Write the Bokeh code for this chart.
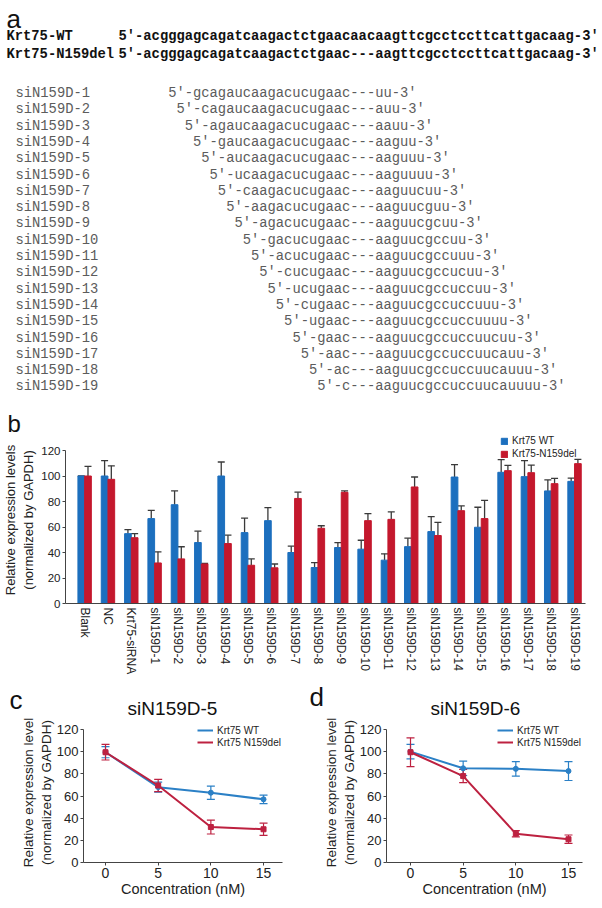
import numpy as np
from bokeh.plotting import figure
from bokeh.layouts import column, row
from bokeh.models import (Range1d, ColumnDataSource, Whisker, TeeHead,
                          Legend, LegendItem, FixedTicker)
from bokeh.core.properties import value
from bokeh.embed import file_html
from bokeh.resources import INLINE

# ---------------- data: panel a ----------------
ref_labels = ["Krt75-WT", "Krt75-N159del"]
ref_seqs = [
    "5′-acgggagcagatcaagactctgaacaacaagttcgcctccttcattgacaag-3′",
    "5′-acgggagcagatcaagactctgaac---aagttcgcctccttcattgacaag-3′",
]
si_names = ["siN159D-1", "siN159D-2", "siN159D-3", "siN159D-4", "siN159D-5",
            "siN159D-6", "siN159D-7", "siN159D-8", "siN159D-9", "siN159D-10",
            "siN159D-11", "siN159D-12", "siN159D-13", "siN159D-14", "siN159D-15",
            "siN159D-16", "siN159D-17", "siN159D-18", "siN159D-19"]
si_seqs = [
    "5′-gcagaucaagacucugaac---uu-3′",
    "5′-cagaucaagacucugaac---auu-3′",
    "5′-agaucaagacucugaac---aauu-3′",
    "5′-gaucaagacucugaac---aaguu-3′",
    "5′-aucaagacucugaac---aaguuu-3′",
    "5′-ucaagacucugaac---aaguuuu-3′",
    "5′-caagacucugaac---aaguucuu-3′",
    "5′-aagacucugaac---aaguucguu-3′",
    "5′-agacucugaac---aaguucgcuu-3′",
    "5′-gacucugaac---aaguucgccuu-3′",
    "5′-acucugaac---aaguucgccuuu-3′",
    "5′-cucugaac---aaguucgccucuu-3′",
    "5′-ucugaac---aaguucgccuccuu-3′",
    "5′-cugaac---aaguucgccuccuuu-3′",
    "5′-ugaac---aaguucgccuccuuuu-3′",
    "5′-gaac---aaguucgccuccuucuu-3′",
    "5′-aac---aaguucgccuccuucauu-3′",
    "5′-ac---aaguucgccuccuucauuu-3′",
    "5′-c---aaguucgccuccuucauuuu-3′",
]

# ---------------- data: panel b ----------------
categories = ["Blank", "NC", "Krt75-siRNA"] + si_names
wt_mean = [100, 100, 54.8, 66.6, 77.5, 47.8, 100, 55.6, 65, 40, 28.2, 43.9,
           42.6, 34, 44.6, 56.4, 99.2, 59.8, 102.9, 99.5, 88.3, 95.8]
wt_err = [0, 12, 3.2, 6.4, 10.8, 8.9, 11, 11.4, 10.2, 5, 3.8, 3.9,
          7, 5, 6.6, 11.7, 9.8, 15.7, 9.9, 12.5, 8.6, 2.6]
del_mean = [100, 97.4, 51.6, 31.8, 35, 31, 47, 30, 28, 82.4, 59, 87.2,
            65, 66, 91.4, 53.3, 72.8, 66.6, 104.2, 102.6, 94, 109.7]
del_err = [7.5, 10.6, 3.2, 8.7, 9.5, 0.5, 6.6, 5, 3, 4.9, 2, 1.1,
           5.5, 5.8, 7.8, 10.4, 3.7, 14.3, 4.2, 6, 4.2, 3.3]
bar_ticks = [0, 20, 40, 60, 80, 100, 120]

# ---------------- data: panels c, d ----------------
panel_titles = ["siN159D-5", "siN159D-6"]
conc = [0, 5, 10, 15]
c_wt = [99.5, 68, 63, 57]
c_wt_err = [5, 4.5, 6, 3.8]
c_del = [99.5, 69.5, 32, 30]
c_del_err = [7, 5.5, 6.3, 5.5]
d_wt = [100, 85, 84.5, 82.5]
d_wt_err = [6.5, 6.5, 6.5, 8.5]
d_del = [99.5, 78, 26, 21]
d_del_err = [13, 6, 2.8, 3.8]
line_ticks = [0, 20, 40, 60, 80, 100, 120]

MONO = "Liberation Mono"
SANS = "Liberation Sans"
BLUE = "#1c6fbe"
RED = "#c4182d"
LBLUE = "#2b80c6"
LRED = "#bd2140"
AX = "#444444"
INK = "#111111"

W = 602


def unaligned(p):
    try:
        p.frame_align = False
    except Exception:
        pass
    return p


def text_panel(height, top):
    p = figure(width=W, height=height, x_range=Range1d(0, W),
               y_range=Range1d(top + height, top),
               x_axis_type=None, y_axis_type=None, toolbar_location=None,
               output_backend="svg", min_border=0)
    p.outline_line_color = None
    return unaligned(p)


def letter_kw(size):
    return dict(text_font=value(SANS), text_font_size=f"{size}px",
                text_baseline="middle", text_color=INK)


# ================= panel a (text) =================
A_TOP, A_H = 0, 436
pa = text_panel(A_H, A_TOP)
fs = 13.8
cw = 0.6 * fs
lab_x = 6
seq_x = 118
ref_y = [36, 54]
pa.text(x=[6], y=[18], text=["a"], **letter_kw(26))
pa.text(x=[7], y=[423], text=["b"], **letter_kw(24))
pa.text(x=[lab_x] * len(ref_labels), y=ref_y, text=ref_labels, text_font=value(MONO),
        text_font_size=f"{fs}px", text_font_style="bold", text_baseline="middle",
        text_color=INK)
pa.text(x=[seq_x] * len(ref_seqs), y=ref_y, text=ref_seqs, text_font=value(MONO),
        text_font_size=f"{fs}px", text_font_style="bold", text_baseline="middle",
        text_color=INK)
dash_x = seq_x + ref_seqs[1].index("---") * cw
si_y = 93 + 16.3 * np.arange(len(si_seqs))
si_x = [dash_x - s.index("---") * cw for s in si_seqs]
pa.text(x=[15] * len(si_names), y=si_y, text=si_names, text_font=value(MONO),
        text_font_size=f"{fs}px", text_baseline="middle", text_color="#5c5c5c")
pa.text(x=si_x, y=si_y, text=si_seqs, text_font=value(MONO),
        text_font_size=f"{fs}px", text_baseline="middle", text_color="#5c5c5c")

# ================= panel b (bars) =================
B_TOP = A_TOP + A_H            # 436
B_FRAME_BOTTOM = 603
B_H = 682 - B_TOP
px_per_unit = 1.275
n = len(categories)
xs = np.arange(n)
off = 0.144
bw = 0.287
pb = figure(width=W, height=B_H, x_range=Range1d(-0.82, n - 0.53),
            y_range=Range1d(0, 120 + (450 - B_TOP) / px_per_unit),
            toolbar_location=None, output_backend="svg",
            min_border_left=65, min_border_right=17, min_border_top=0,
            min_border_bottom=B_TOP + B_H - B_FRAME_BOTTOM)
unaligned(pb)
pb.outline_line_color = None
pb.grid.visible = False
r_wt = pb.vbar(x=xs - off, top=wt_mean, width=bw, color=BLUE)
r_del = pb.vbar(x=xs + off, top=del_mean, width=bw, color=RED)
for xpos, mean, err in [(xs - off, wt_mean, wt_err), (xs + off, del_mean, del_err)]:
    m = np.array(mean, dtype=float)
    src = ColumnDataSource(dict(base=xpos, lower=m, upper=m + np.array(err)))
    pb.add_layout(Whisker(source=src, base="base", lower="lower", upper="upper",
                          line_color="#3a3a3a", line_width=1.3, lower_head=None,
                          upper_head=TeeHead(size=7, line_color="#3a3a3a", line_width=1.3)))
leg_b = Legend(items=[LegendItem(label="Krt75 WT", renderers=[r_wt]),
                      LegendItem(label="Krt75-N159del", renderers=[r_del])],
               location=(435, B_FRAME_BOTTOM - 459), glyph_width=8, glyph_height=8,
               label_height=10, label_standoff=4, spacing=2, padding=0, margin=0,
               border_line_color=None, background_fill_alpha=0,
               label_text_font=SANS, label_text_font_size="10px", label_text_color="#222222")
pb.add_layout(leg_b)
pb.xaxis.ticker = FixedTicker(ticks=list(xs))
pb.xaxis.major_label_overrides = {int(i): c for i, c in zip(xs, categories)}
pb.xaxis.major_label_orientation = "vertical"
pb.xaxis.major_tick_line_color = None
pb.xaxis.minor_tick_line_color = None
pb.xaxis.major_tick_out = 0
pb.xaxis.major_label_standoff = 4
pb.xaxis.axis_line_color = AX
pb.xaxis.major_label_text_font = SANS
pb.xaxis.major_label_text_font_size = "12px"
pb.xaxis.major_label_text_color = "#222222"
pb.yaxis.ticker = FixedTicker(ticks=bar_ticks)
pb.yaxis.bounds = (0, 120)
pb.yaxis.minor_tick_line_color = None
pb.yaxis.major_tick_out = 3
pb.yaxis.major_tick_in = 0
pb.yaxis.major_tick_line_color = AX
pb.yaxis.axis_line_color = AX
pb.yaxis.major_label_standoff = 2
pb.yaxis.major_label_text_font = SANS
pb.yaxis.major_label_text_font_size = "11.5px"
pb.yaxis.major_label_text_color = "#222222"
pb.yaxis.axis_label = "Relative expression levels\n(normalized by GAPDH)"
pb.yaxis.axis_label_text_font = SANS
pb.yaxis.axis_label_text_font_size = "13px"
pb.yaxis.axis_label_text_font_style = "normal"
pb.yaxis.axis_label_standoff = 2
pb.yaxis.axis_label_text_color = "#222222"

# ================= strip with panel letters and titles of c, d =================
S_TOP = B_TOP + B_H            # 682
S_H = 36
ps = text_panel(S_H, S_TOP)
ps.text(x=[9, 309], y=[699, 696], text=["c", "d"], **letter_kw(26))
ps.text(x=[172, 475], y=[708, 708], text=panel_titles, text_font=value(SANS),
        text_font_size="19px", text_align="center", text_baseline="middle",
        text_color=INK)

# ================= panels c, d (lines) =================
R_TOP = S_TOP + S_H            # 718
R_H = 905 - R_TOP
L_FRAME_TOP = 722
L_FRAME_BOTTOM = 862
l_px_per_unit = 1.108


def conc_panel(wt, wt_e, de, de_e, width, left, right, xr, leg_x):
    p = figure(width=width, height=R_H, x_range=Range1d(*xr),
               y_range=Range1d(0, 120 + (729 - L_FRAME_TOP) / l_px_per_unit),
               toolbar_location=None, output_backend="svg",
               min_border_left=left, min_border_right=right,
               min_border_top=L_FRAME_TOP - R_TOP,
               min_border_bottom=R_TOP + R_H - L_FRAME_BOTTOM)
    unaligned(p)
    p.outline_line_color = None
    p.grid.visible = False
    lw = p.line(conc, wt, line_color=LBLUE, line_width=2)
    p.scatter(conc, wt, marker="circle", size=5, color=LBLUE)
    for vals, errs, col in [(wt, wt_e, LBLUE), (de, de_e, LRED)]:
        v = np.array(vals, dtype=float)
        e = np.array(errs, dtype=float)
        src = ColumnDataSource(dict(base=conc, lower=v - e, upper=v + e))
        p.add_layout(Whisker(source=src, base="base", lower="lower", upper="upper",
                             line_color=col, line_width=1.2,
                             lower_head=TeeHead(size=8, line_color=col, line_width=1.2),
                             upper_head=TeeHead(size=8, line_color=col, line_width=1.2)))
    ld = p.line(conc, de, line_color=LRED, line_width=2)
    p.scatter(conc, de, marker="square", size=5, color=LRED)
    leg = Legend(items=[LegendItem(label="Krt75 WT", renderers=[lw]),
                        LegendItem(label="Krt75 N159del", renderers=[ld])],
                 location=(leg_x, L_FRAME_BOTTOM - 748), glyph_width=16, glyph_height=12,
                 label_height=12, label_standoff=4, spacing=0, padding=0, margin=0,
                 border_line_color=None, background_fill_alpha=0,
                 label_text_font=SANS, label_text_font_size="10px",
                 label_text_color="#222222")
    p.add_layout(leg)
    p.xaxis.ticker = FixedTicker(ticks=conc)
    p.yaxis.ticker = FixedTicker(ticks=line_ticks)
    p.yaxis.bounds = (0, 120)
    for ax in (p.xaxis, p.yaxis):
        ax.minor_tick_line_color = None
        ax.major_tick_out = 3
        ax.major_tick_in = 0
        ax.major_tick_line_color = AX
        ax.axis_line_color = AX
        ax.major_label_standoff = 2
        ax.major_label_text_font = SANS
        ax.major_label_text_color = "#222222"
        ax.axis_label_text_font = SANS
        ax.axis_label_text_font_style = "normal"
        ax.axis_label_text_color = "#222222"
        ax.axis_label_standoff = 0
    p.xaxis.axis_label_text_font_size = "14.5px"
    p.yaxis.axis_label_text_font_size = "13.5px"
    p.xaxis.major_label_text_font_size = "14px"
    p.yaxis.major_label_text_font_size = "13px"
    p.xaxis.axis_label = "Concentration (nM)"
    p.yaxis.axis_label = "Relative expression level\n(normalized by GAPDH)"
    return p


pc = conc_panel(c_wt, c_wt_err, c_del, c_del_err,
                300, 83, 18, (-2.089, 16.80), 197 - 83)
pd_ = conc_panel(d_wt, d_wt_err, d_del, d_del_err,
                 302, 86, 20, (-2.279, 16.33), 497 - 386)

layout = column(column(pa), column(pb), column(ps), row(pc, pd_))
open("out.html", "w").write(file_html(layout, INLINE))
